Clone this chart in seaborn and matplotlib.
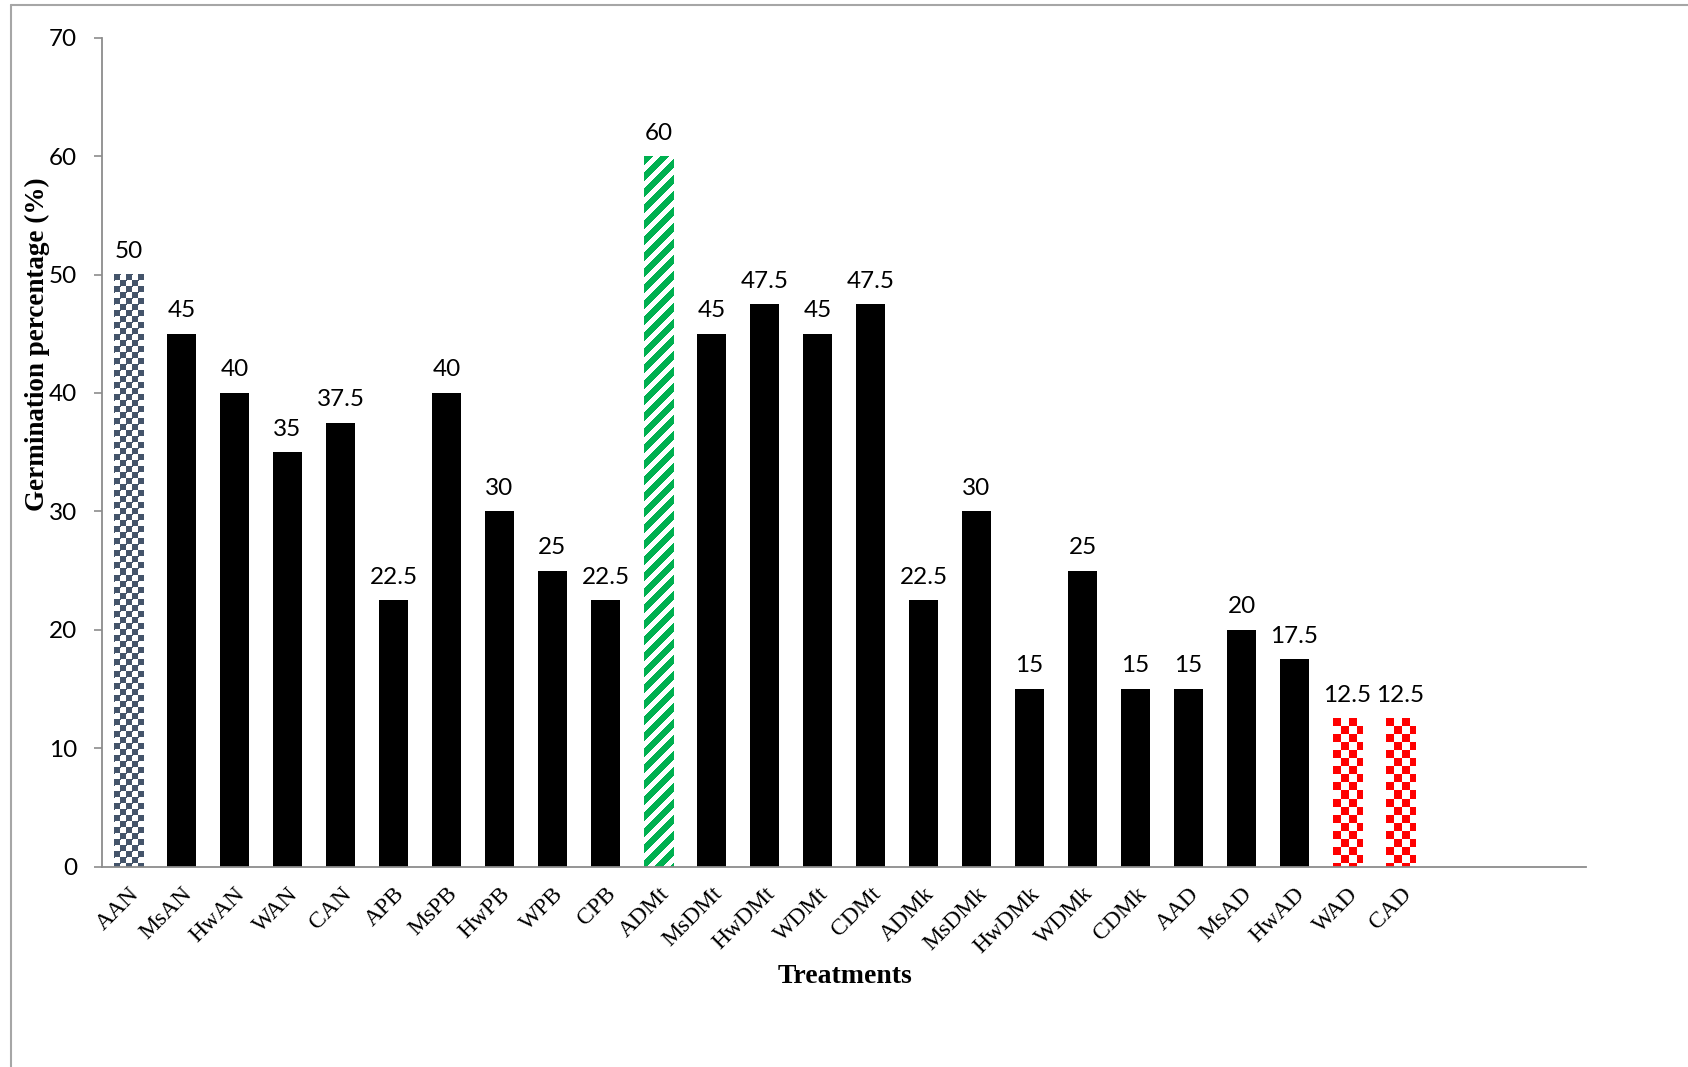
import numpy as np
import pandas as pd
import matplotlib
matplotlib.use("Agg")
import matplotlib.pyplot as plt
from matplotlib.lines import Line2D
import seaborn as sns

# Germination percentage per seed treatment
treatments = ["AAN", "MsAN", "HwAN", "WAN", "CAN", "APB", "MsPB", "HwPB", "WPB", "CPB",
              "ADMt", "MsDMt", "HwDMt", "WDMt", "CDMt", "ADMk", "MsDMk", "HwDMk", "WDMk",
              "CDMk", "AAD", "MsAD", "HwAD", "WAD", "CAD"]
germination = [50, 45, 40, 35, 37.5, 22.5, 40, 30, 25, 22.5,
               60, 45, 47.5, 45, 47.5, 22.5, 30, 15, 25,
               15, 15, 20, 17.5, 12.5, 12.5]

# Highlighted treatments get a patterned fill, everything else is solid black
pattern_of = {"AAN": "confetti", "ADMt": "stripes", "WAD": "checker", "CAD": "checker"}
pattern_color = {"confetti": "#44546A", "stripes": "#00B050", "checker": "#FF0000"}

sns.set_theme(style="white")
plt.rcParams["font.family"] = ["Lato", "DejaVu Sans"]

fig = plt.figure(figsize=(16.88, 10.67), dpi=100)
ax = fig.add_axes([0.0604, 0.1878, 0.8792, 0.7769])

df = pd.DataFrame({"Treatment": treatments, "Germination": germination})
palette = {t: "black" for t in treatments}
sns.barplot(data=df, x="Treatment", y="Germination", hue="Treatment",
            order=treatments, hue_order=treatments, palette=palette,
            width=0.56, saturation=1, errorbar=None, legend=False, ax=ax)

ax.set_xlim(-0.5, 27.5)
ax.set_ylim(0, 70)
ax.set_yticks(range(0, 71, 10))


def texture(kind, h, w, color):
    rgb = np.array(matplotlib.colors.to_rgb(color))
    white = np.ones(3)
    ii, jj = np.mgrid[0:h, 0:w]
    if kind == "checker":
        mask = ((ii // 8) + (jj // 8)) % 2 == 0
    elif kind == "stripes":
        mask = ((jj + ii) % 16) < 9
    else:
        cell = ((ii // 6) + (jj // 6)) % 2 == 0
        dash = ((ii % 12) == 7) & ((jj % 12) >= 2) & ((jj % 12) <= 4)
        mask = cell & ~dash
        mask |= (((ii % 6) == 0) & ((jj % 6) == 0))
    img = np.where(mask[..., None], rgb, white)
    return img


for p in ax.patches:
    w = p.get_width()
    h = p.get_height()
    if h <= 0:
        continue
    x0 = p.get_x()
    idx = int(round(x0 + w / 2))
    name = treatments[idx]
    p.set_linewidth(0)
    if name in pattern_of:
        kind = pattern_of[name]
        (px0, py0), (px1, py1) = ax.transData.transform([(x0, 0), (x0 + w, h)])
        npx = max(int(round(px1 - px0)), 1)
        npy = max(int(round(py1 - py0)), 1)
        img = texture(kind, npy, npx, pattern_color[kind])
        p.set_facecolor("none")
        ax.imshow(img, extent=(x0, x0 + w, 0, h), origin="upper",
                  interpolation="nearest", aspect="auto", zorder=p.get_zorder() + 0.1)

ax.set_xlim(-0.5, 27.5)
ax.set_ylim(0, 70)

# value labels above each bar
for cont in ax.containers:
    ax.bar_label(cont, fmt="{:g}", padding=9, fontsize=17.5, color="black",
                 family=["Lato", "DejaVu Sans"])

# axes styling
for side in ("top", "right"):
    ax.spines[side].set_visible(False)
for side in ("left", "bottom"):
    ax.spines[side].set_color("#8C8C8C")
    ax.spines[side].set_linewidth(1.3)

ax.tick_params(axis="y", direction="out", length=6, width=1.2, color="#8C8C8C",
               pad=12, labelsize=17.5, labelcolor="black", left=True)
ax.tick_params(axis="x", length=0, pad=12, labelsize=17, labelcolor="black")
for lab in ax.get_xticklabels():
    lab.set_rotation(45)
    lab.set_ha("right")
    lab.set_va("top")
    lab.set_rotation_mode("anchor")
    lab.set_family(["Liberation Serif", "DejaVu Serif"])

ax.set_xlabel("Treatments", fontsize=20, fontweight="bold",
              family=["Liberation Serif", "DejaVu Serif"], color="black")
ax.set_ylabel("Germination percentage (%)", fontsize=19.5, fontweight="bold",
              family=["Liberation Serif", "DejaVu Serif"], color="black")
ax.xaxis.set_label_coords(0.5007, -0.118)
ax.yaxis.set_label_coords(-0.035, 0.63)
ax.grid(False)

# chart-area border (left and top edges)
fig.add_artist(Line2D([0.0065, 0.0065], [0.0, 0.9953], transform=fig.transFigure,
                      color="#A6A6A6", lw=1.5))
fig.add_artist(Line2D([0.0065, 1.0], [0.9953, 0.9953], transform=fig.transFigure,
                      color="#A6A6A6", lw=1.5))

fig.savefig("out.png", dpi=100, facecolor="white")
